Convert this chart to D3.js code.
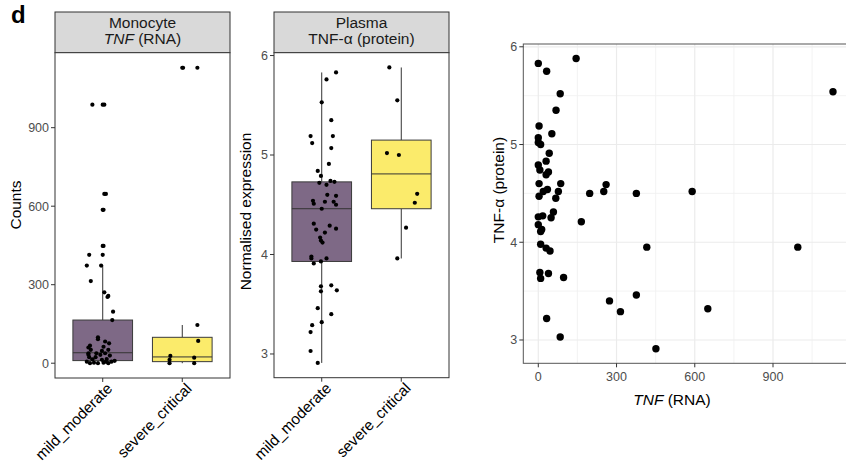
<!DOCTYPE html>
<html>
<head>
<meta charset="utf-8">
<script src="https://cdn.jsdelivr.net/npm/d3@7"></script>
<style>
  body { margin: 0; background: #fff; }
  svg { display: block; font-family: "Liberation Sans", Arial, Helvetica, sans-serif; }
</style>
</head>
<body>
<div class="chart"></div>
<script>
// categories
const groups = ['mild_moderate', 'severe_critical'];
const boxFill = ['#7e6986', '#fbeb6b'];

// monocyte TNF RNA counts, per group (jitter is in category units)
const rnaMild = [988, 988, 988, 647, 647, 586, 586, 448, 448, 414, 414, 373, 373, 314, 271, 257, 253, 197, 165,
  99, 92, 83, 76, 67, 60, 63, 51, 47, 51, 38, 32, 23, 38, 32, 38, 29, 15, 23, 13, 16, 6, 0, 2, 0, 2, 0, 9, 6, 6];
const rnaMildJit = [-0.13, 0, 0.02, 0.02, 0.04, 0, 0.01, 0, 0.01, 0, -0.17, -0.20, -0.02, -0.15, 0.02, 0.07, 0.06, 0.13, 0.12,
  -0.06, -0.06, 0.03, 0.08, -0.16, -0.18, 0.01, -0.15, -0.01, 0.07, -0.18, -0.18, -0.17, -0.08, -0.03, 0.03, 0.09, -0.13, -0.09, -0.01, 0.05, -0.20, -0.16, -0.11, -0.06, 0.01, 0.07, 0.15, 0.11, 0.04];
const rnaSevere = [1129, 1129, 1129, 146, 85, 28, 13, 0, 21, 0];
const rnaSevereJit = [0, 0.01, 0.19, 0.19, 0.20, -0.15, -0.16, -0.16, 0.15, 0.15];

// box stats for RNA: [mild, severe]
const rnaLo = [0, 0];
const rnaQ1 = [10, 6];
const rnaMed = [40, 24];
const rnaQ3 = [165, 99];
const rnaHi = [373, 146];
const rnaTicks = [0, 300, 600, 900];

// plasma TNF-a protein, per group
const protMild = [5.83, 5.76, 5.53, 5.35, 5.19, 5.12, 5.19, 5.07, 4.91, 4.84, 4.79, 4.74, 4.73, 4.72, 4.70, 4.60, 4.59,
  4.54, 4.51, 4.53, 4.53, 4.50, 4.46, 4.31, 4.25, 4.29, 4.26, 4.22, 4.17, 4.14, 4.12, 3.98, 3.96, 3.91, 3.93, 3.96,
  3.68, 3.63, 3.69, 3.64, 3.46, 3.40, 3.32, 3.29, 3.22, 3.03, 2.91];
const protMildJit = [0.18, 0.06, 0, 0.12, -0.14, -0.12, 0.14, 0.12, 0.09, -0.05, -0.01, 0.11, 0.16, -0.03, 0.06, 0.07, 0.18,
  -0.11, -0.10, 0.04, 0.15, 0.18, 0, -0.10, -0.07, 0.10, 0.18, 0.04, -0.02, -0.01, 0.01, -0.13, -0.13, -0.10, -0.01, 0.06,
  -0.01, -0.01, 0.12, 0.19, -0.05, 0.12, 0, -0.12, -0.14, -0.14, -0.05];
const protSevere = [5.88, 5.55, 5.02, 5.00, 4.61, 4.52, 4.27, 3.96];
const protSevereJit = [-0.15, -0.05, -0.18, -0.03, 0.20, 0.17, 0.06, -0.05];

const protLo = [2.91, 3.96];
const protQ1 = [3.93, 4.46];
const protMed = [4.46, 4.81];
const protQ3 = [4.73, 5.15];
const protHi = [5.83, 5.88];
const protTicks = [3, 4, 5, 6];

// scatter: RNA vs protein per patient
const pairRna = [0, 32, 145, 84, 68, 1130, 3, 52, 0, 0, 9, 42, 30, 0, 6, 39, 30, 3, 86, 35, 19, 77, 3, 67, 197, 260, 251, 376, 590,
  58, 49, 0, 17, 0, 13, 9, 165, 9, 30, 45, 416, 995, 6, 9, 39, 97, 376, 273, 315, 650, 32, 84, 451];
const pairProt = [5.83, 5.75, 5.88, 5.52, 5.35, 5.54, 5.19, 5.11, 5.07, 5.02, 5.00, 4.91, 4.83, 4.79, 4.74, 4.72, 4.69, 4.60, 4.60,
  4.54, 4.52, 4.52, 4.47, 4.45, 4.50, 4.59, 4.52, 4.50, 4.52, 4.31, 4.25, 4.26, 4.27, 4.18, 4.13, 4.11, 4.21, 3.98, 3.94, 3.91,
  3.95, 3.95, 3.69, 3.63, 3.68, 3.64, 3.46, 3.40, 3.29, 3.32, 3.22, 3.03, 2.91];
const scatXTicks = [0, 300, 600, 900];
const scatXMinor = [150, 450, 750, 1050];
const scatYMinor = [3.5, 4.5, 5.5];

const W = 846, H = 466;
const svg = d3.select('.chart').append('svg').attr('width', W).attr('height', H);

svg.append('text')
  .attr('x', 11).attr('y', 23)
  .attr('font-size', 24).attr('font-weight', 'bold')
  .text('d');

function boxPanel(opt) {
  const { x0, x1, top, stripTop, bottom, yDomain, ticks, lo, q1, med, q3, hi, pts, title, strip1, strip2 } = opt;
  const g = svg.append('g');
  const x = d3.scalePoint().domain(groups).range([x0, x1]).padding(0.6);
  const step = x.step();
  const y = d3.scaleLinear().domain(yDomain).range([bottom, top]);

  // strip
  g.append('rect').attr('x', x0).attr('y', stripTop).attr('width', x1 - x0).attr('height', top - stripTop)
    .attr('fill', '#d9d9d9').attr('stroke', '#333').attr('stroke-width', 1);
  const st = g.append('text').attr('text-anchor', 'middle').attr('font-size', 15.5).attr('fill', '#1a1a1a');
  st.append('tspan').attr('x', (x0 + x1) / 2).attr('y', stripTop + 15.5).text(strip1);
  const l2 = st.append('tspan').attr('x', (x0 + x1) / 2).attr('y', stripTop + 32);
  strip2(l2);

  g.append('rect').attr('x', x0).attr('y', top).attr('width', x1 - x0).attr('height', bottom - top)
    .attr('fill', '#fff').attr('stroke', '#333').attr('stroke-width', 1);

  // boxes
  const bw = step * 0.75;
  groups.forEach((grp, i) => {
    const cx = x(grp);
    g.append('line').attr('x1', cx).attr('x2', cx).attr('y1', y(hi[i])).attr('y2', y(q3[i]))
      .attr('stroke', '#333').attr('stroke-width', 1);
    g.append('line').attr('x1', cx).attr('x2', cx).attr('y1', y(q1[i])).attr('y2', y(lo[i]))
      .attr('stroke', '#333').attr('stroke-width', 1);
    g.append('rect').attr('x', cx - bw / 2).attr('width', bw)
      .attr('y', y(q3[i])).attr('height', y(q1[i]) - y(q3[i]))
      .attr('fill', boxFill[i]).attr('stroke', '#3a3a3a').attr('stroke-width', 1);
    g.append('line').attr('x1', cx - bw / 2).attr('x2', cx + bw / 2).attr('y1', y(med[i])).attr('y2', y(med[i]))
      .attr('stroke', '#333').attr('stroke-width', 1);
  });

  // jittered points
  pts.forEach((p, i) => {
    g.selectAll(null).data(p.v.map((v, k) => ({ v, j: p.j[k] })))
      .enter().append('circle')
      .attr('cx', d => x(groups[i]) + d.j * step)
      .attr('cy', d => y(d.v))
      .attr('r', 2.1).attr('fill', '#000');
  });

  // y axis
  const yt = g.selectAll('.yt').data(ticks).enter().append('g')
    .attr('transform', d => `translate(${x0},${y(d)})`);
  yt.append('line').attr('x1', -4).attr('x2', 0).attr('stroke', '#333');
  yt.append('text').attr('x', -6).attr('dy', '0.35em').attr('text-anchor', 'end')
    .attr('font-size', 12.5).attr('fill', '#4d4d4d').text(d => d);

  // x axis
  const xt = g.selectAll('.xt').data(groups).enter().append('g')
    .attr('transform', d => `translate(${x(d)},${bottom})`);
  xt.append('line').attr('y1', 0).attr('y2', 4).attr('stroke', '#333');
  xt.append('text').attr('transform', 'translate(4,5) rotate(-45)')
    .attr('text-anchor', 'end').attr('dy', '0.6em')
    .attr('font-size', 15.3).attr('fill', '#000').text(d => d);

  g.append('text').attr('transform', `translate(${opt.titleX},${opt.titleY}) rotate(-90)`)
    .attr('text-anchor', 'middle').attr('font-size', 15.5).attr('fill', '#000').text(title);
}

boxPanel({
  x0: 55, x1: 230, stripTop: 12, top: 52.7, bottom: 378,
  yDomain: [-56.5, 1186.5], ticks: rnaTicks,
  lo: rnaLo, q1: rnaQ1, med: rnaMed, q3: rnaQ3, hi: rnaHi,
  pts: [{ v: rnaMild, j: rnaMildJit }, { v: rnaSevere, j: rnaSevereJit }],
  title: 'Counts', titleX: 20.5, titleY: 205,
  strip1: 'Monocyte',
  strip2: t => { t.append('tspan').attr('font-style', 'italic').text('TNF'); t.append('tspan').text(' (RNA)'); }
});

boxPanel({
  x0: 274, x1: 449, stripTop: 12, top: 52.7, bottom: 377.7,
  yDomain: [2.7615, 6.0285], ticks: protTicks,
  lo: protLo, q1: protQ1, med: protMed, q3: protQ3, hi: protHi,
  pts: [{ v: protMild, j: protMildJit }, { v: protSevere, j: protSevereJit }],
  title: 'Normalised expression', titleX: 251, titleY: 211.5,
  strip1: 'Plasma',
  strip2: t => t.text('TNF-\u03b1 (protein)')
});

// scatter panel
const sx0 = 523.3, sx1 = 847.6, sy0 = 44, sy1 = 363.3;
const xs = d3.scaleLinear().domain([-57.5, 1186]).range([sx0, sx1]);
const ys = d3.scaleLinear().domain([2.7615, 6.0285]).range([sy1, sy0]);
const sg = svg.append('g');
sg.append('rect').attr('x', sx0).attr('y', sy0).attr('width', sx1 - sx0).attr('height', sy1 - sy0).attr('fill', '#fff');
sg.selectAll('.xm').data(scatXMinor).enter().append('line')
  .attr('x1', d => xs(d)).attr('x2', d => xs(d)).attr('y1', sy0).attr('y2', sy1)
  .attr('stroke', '#f0f0f0').attr('stroke-width', 0.8);
sg.selectAll('.ym').data(scatYMinor).enter().append('line')
  .attr('y1', d => ys(d)).attr('y2', d => ys(d)).attr('x1', sx0).attr('x2', sx1)
  .attr('stroke', '#f0f0f0').attr('stroke-width', 0.8);
sg.selectAll('.xg').data(scatXTicks).enter().append('line')
  .attr('x1', d => xs(d)).attr('x2', d => xs(d)).attr('y1', sy0).attr('y2', sy1)
  .attr('stroke', '#ebebeb').attr('stroke-width', 1.2);
sg.selectAll('.yg').data(protTicks).enter().append('line')
  .attr('y1', d => ys(d)).attr('y2', d => ys(d)).attr('x1', sx0).attr('x2', sx1)
  .attr('stroke', '#ebebeb').attr('stroke-width', 1.2);

sg.selectAll('.pt').data(pairRna.map((r, i) => [r, pairProt[i]])).enter().append('circle')
  .attr('cx', d => xs(d[0])).attr('cy', d => ys(d[1]))
  .attr('r', 3.7).attr('fill', '#000');

sg.append('rect').attr('x', sx0).attr('y', sy0).attr('width', sx1 - sx0).attr('height', sy1 - sy0)
  .attr('fill', 'none').attr('stroke', '#555').attr('stroke-width', 1);

const sxt = sg.selectAll('.sxt').data(scatXTicks).enter().append('g')
  .attr('transform', d => `translate(${xs(d)},${sy1})`);
sxt.append('line').attr('y2', 4).attr('stroke', '#333');
sxt.append('text').attr('y', 17.5).attr('text-anchor', 'middle')
  .attr('font-size', 12.5).attr('fill', '#4d4d4d').text(d => d);

const syt = sg.selectAll('.syt').data(protTicks).enter().append('g')
  .attr('transform', d => `translate(${sx0},${ys(d)})`);
syt.append('line').attr('x1', -4).attr('stroke', '#333');
syt.append('text').attr('x', -6).attr('dy', '0.35em').attr('text-anchor', 'end')
  .attr('font-size', 12.5).attr('fill', '#4d4d4d').text(d => d);

const xtitle = sg.append('text').attr('x', 672).attr('y', 405).attr('text-anchor', 'middle')
  .attr('font-size', 15.5).attr('fill', '#000');
xtitle.append('tspan').attr('font-style', 'italic').text('TNF');
xtitle.append('tspan').text(' (RNA)');

sg.append('text').attr('transform', 'translate(504,190) rotate(-90)')
  .attr('text-anchor', 'middle').attr('font-size', 15.5).attr('fill', '#000')
  .text('TNF-\u03b1 (protein)');
</script>
</body>
</html>
